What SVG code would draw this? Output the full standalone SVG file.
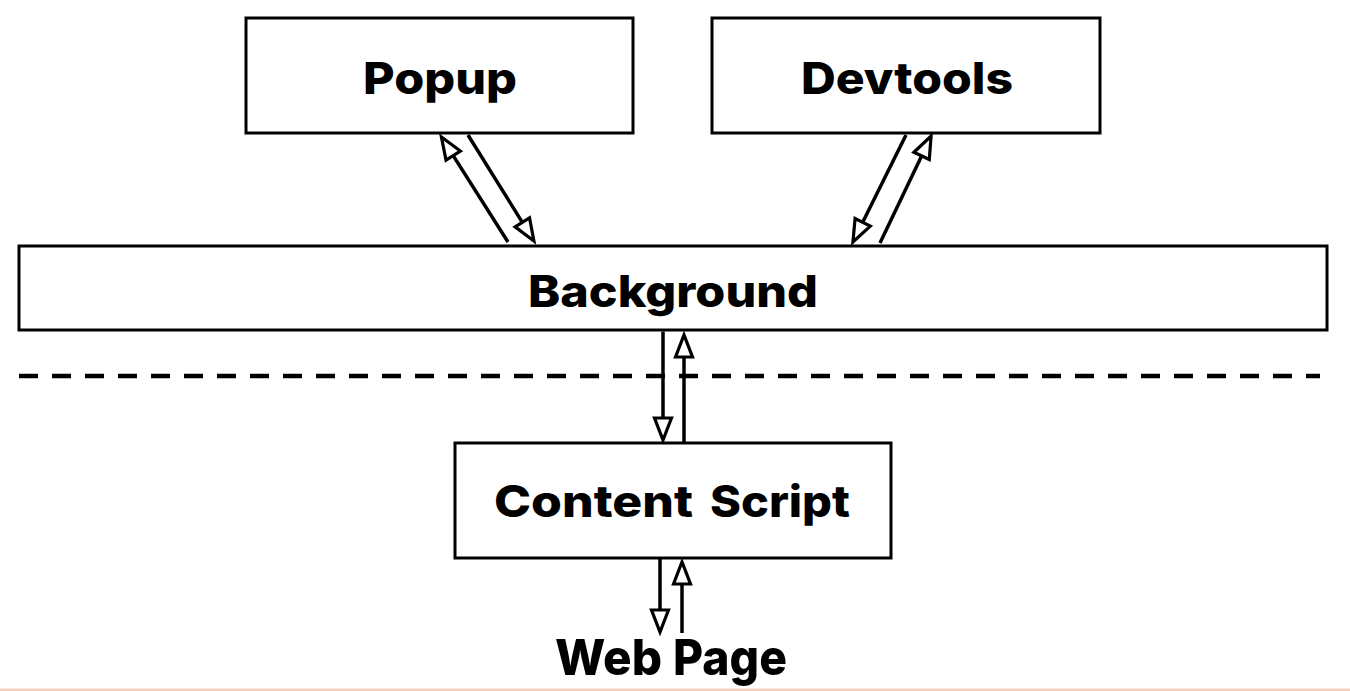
<svg xmlns="http://www.w3.org/2000/svg" width="1350" height="691" viewBox="0 0 1350 691">
  <style>
    .box { fill: #ffffff; stroke: #000000; stroke-width: 3; }
    .lbl { font-family: Inter, "Liberation Sans", sans-serif; font-weight: 800; font-size: 44px; fill: #000000; }
    .conn { stroke: #000000; stroke-width: 3.5; fill: none; marker-end: url(#open); }
  </style>
  <defs>
    <marker id="open" markerUnits="userSpaceOnUse" markerWidth="30" markerHeight="30" refX="0" refY="0" viewBox="-4 -14 30 28" orient="auto" overflow="visible">
      <path d="M0,-8.5 L22,0 L0,8.5 Z" fill="#ffffff" stroke="#000000" stroke-width="3.2" stroke-linejoin="miter"/>
    </marker>
  </defs>
  <rect x="0" y="0" width="1350" height="691" fill="#ffffff"/>
  <rect x="0" y="688.5" width="1350" height="2.5" fill="#f6cdb6"/>

  <g id="popup">
    <rect class="box" x="246" y="18" width="387" height="115"/>
    <text class="lbl" x="440" y="94" text-anchor="middle" textLength="154" lengthAdjust="spacingAndGlyphs">Popup</text>
  </g>
  <g id="devtools">
    <rect class="box" x="712" y="18" width="388" height="115"/>
    <text class="lbl" x="907" y="94" text-anchor="middle" textLength="212" lengthAdjust="spacingAndGlyphs">Devtools</text>
  </g>
  <g id="background">
    <rect class="box" x="19" y="246" width="1308" height="84"/>
    <text class="lbl" x="673" y="307" text-anchor="middle" textLength="290" lengthAdjust="spacingAndGlyphs">Background</text>
  </g>
  <g id="content-script">
    <rect class="box" x="455" y="443" width="436" height="115"/>
    <text class="lbl" y="517"><tspan x="494" textLength="199" lengthAdjust="spacingAndGlyphs">Content</tspan> <tspan x="710" textLength="140" lengthAdjust="spacingAndGlyphs">Script</tspan></text>
  </g>
  <g id="web-page">
    <text class="lbl" y="675" style="font-size:50px"><tspan x="555" textLength="107" lengthAdjust="spacingAndGlyphs">Web</tspan> <tspan x="673" textLength="114" lengthAdjust="spacingAndGlyphs">Page</tspan></text>
  </g>

  <g id="separator">
    <line x1="19" y1="376" x2="1320" y2="376" stroke="#000000" stroke-width="4.5" stroke-dasharray="19 14"/>
  </g>

  <g id="connectors">
    <line class="conn" x1="508" y1="242" x2="453.2" y2="155.6"/>
    <line class="conn" x1="468" y1="135" x2="522.3" y2="222.3"/>
    <line class="conn" x1="906" y1="135" x2="862.7" y2="222.3"/>
    <line class="conn" x1="880" y1="243" x2="921.6" y2="155.9"/>
    <line class="conn" x1="663" y1="331.5" x2="663" y2="418"/>
    <line class="conn" x1="684" y1="442" x2="684" y2="357"/>
    <line class="conn" x1="660" y1="559" x2="660" y2="610"/>
    <line class="conn" x1="682" y1="633" x2="682" y2="584"/>
  </g>
</svg>
